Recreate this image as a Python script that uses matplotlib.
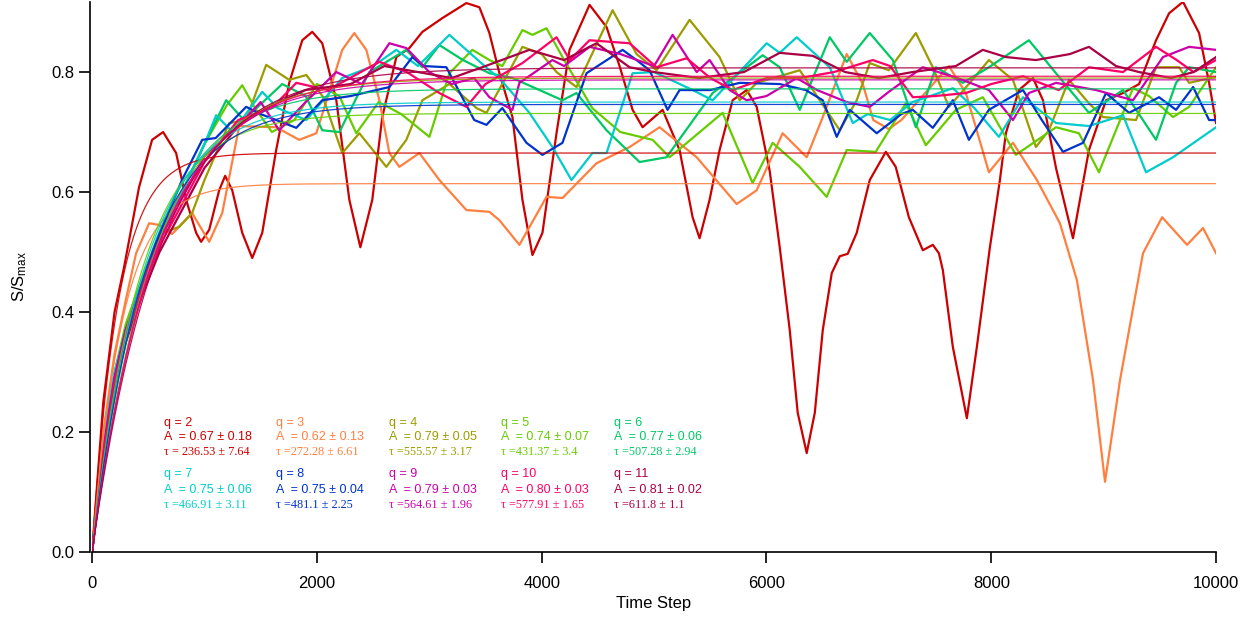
import numpy as np
import matplotlib
matplotlib.use("Agg")
import matplotlib.pyplot as plt

plt.rcParams['font.family'] = ['Liberation Sans', 'DejaVu Sans']
plt.rcParams['mathtext.default'] = 'regular'

# ---------------- data ----------------
q_values = [2, 3, 4, 5, 6, 7, 8, 9, 10, 11]
colors = ['#cc0000', '#ff7f3f', '#9c9c00', '#66cc00', '#00c864',
          '#00cccc', '#0033cc', '#cc00aa', '#ff0066', '#aa0044']

# fit parameters (printed)
A_text = ['0.67 ± 0.18', '0.62 ± 0.13', '0.79 ± 0.05', '0.74 ± 0.07', '0.77 ± 0.06',
          '0.75 ± 0.06', '0.75 ± 0.04', '0.79 ± 0.03', '0.80 ± 0.03', '0.81 ± 0.02']
tau_text = [' 236.53 ± 7.64', '272.28 ± 6.61', '555.57 ± 3.17', '431.37 ± 3.4', '507.28 ± 2.94',
            '466.91 ± 3.11', '481.1 ± 2.25', '564.61 ± 1.96', '577.91 ± 1.65', '611.8 ± 1.1']
tau_fit = [236.53, 272.28, 555.57, 431.37, 507.28, 466.91, 481.1, 564.61, 577.91, 611.8]
A_fit = [0.665, 0.614, 0.79, 0.731, 0.772, 0.75, 0.746, 0.787, 0.793, 0.807]

# noisy traces (time step, S/Smax)
t_q2 = [0, 100, 200, 285, 418, 534, 632, 748, 837, 926, 970, 1042, 1131, 1184, 1247, 1336, 1425,
        1514, 1638, 1754, 1870, 1959, 2048, 2173, 2289, 2387, 2493, 2582, 2707, 2823, 2939, 3117,
        3330, 3446, 3535, 3624, 3740, 3829, 3918, 4007, 4132, 4248, 4426, 4577, 4693, 4809, 4898,
        5076, 5227, 5343, 5405, 5494, 5583, 5699, 5824, 5913, 6029, 6118, 6207, 6278, 6358, 6430,
        6501, 6581, 6652, 6723, 6803, 6919, 7062, 7150, 7267, 7391, 7480, 7534, 7569, 7658, 7783,
        7872, 7988, 8077, 8130, 8246, 8371, 8460, 8576, 8727, 8869, 9021, 9172, 9315, 9466, 9582,
        9706, 9849, 9938, 10000]
s_q2 = [0, 0.25, 0.40, 0.475, 0.608, 0.687, 0.70, 0.665, 0.587, 0.532, 0.517, 0.537, 0.603, 0.627,
        0.603, 0.532, 0.49, 0.532, 0.67, 0.782, 0.853, 0.867, 0.848, 0.753, 0.587, 0.508, 0.587,
        0.725, 0.825, 0.84, 0.867, 0.89, 0.915, 0.908, 0.865, 0.798, 0.725, 0.587, 0.495, 0.532,
        0.698, 0.837, 0.912, 0.875, 0.81, 0.737, 0.708, 0.737, 0.67, 0.558, 0.523, 0.587, 0.67,
        0.753, 0.77, 0.742, 0.635, 0.508, 0.37, 0.232, 0.165, 0.232, 0.37, 0.465, 0.493, 0.497,
        0.532, 0.62, 0.667, 0.642, 0.558, 0.503, 0.512, 0.498, 0.47, 0.342, 0.223, 0.342, 0.508,
        0.62, 0.698, 0.77, 0.79, 0.753, 0.64, 0.523, 0.67, 0.753, 0.765, 0.78, 0.853, 0.898, 0.917,
        0.865, 0.782, 0.715]

t_q3 = [0, 100, 200, 300, 392, 508, 600, 712, 890, 1042, 1158, 1309, 1638, 1843, 1995, 2226,
        2333, 2440, 2556, 2645, 2734, 2912, 3090, 3330, 3535, 3624, 3802, 4043, 4185, 4488, 4782,
        5049, 5379, 5735, 5913, 6144, 6358, 6501, 6714, 6857, 6950, 7088, 7200, 7623, 7774, 7979,
        8193, 8406, 8611, 8762, 8905, 9012, 9146, 9350, 9520, 9742, 9884, 10000]
s_q3 = [0, 0.20, 0.33, 0.42, 0.498, 0.548, 0.545, 0.53, 0.565, 0.517, 0.565, 0.71, 0.708, 0.687,
        0.698, 0.837, 0.865, 0.837, 0.753, 0.665, 0.642, 0.665, 0.62, 0.57, 0.567, 0.553, 0.512,
        0.592, 0.59, 0.648, 0.675, 0.708, 0.658, 0.58, 0.603, 0.698, 0.658, 0.725, 0.83, 0.78,
        0.72, 0.705, 0.72, 0.81, 0.765, 0.633, 0.682, 0.62, 0.548, 0.453, 0.287, 0.117, 0.287,
        0.498, 0.558, 0.512, 0.54, 0.498]

t_q4 = [0, 100, 200, 300, 450, 600, 775, 890, 1000, 1220, 1370, 1549, 1754, 1906, 2050, 2226,
        2378, 2618, 2796, 2939, 3180, 3420, 3509, 3829, 4000, 4132, 4310, 4631, 4844, 5022, 5316,
        5583, 5762, 5913, 6296, 6652, 6803, 6919, 7088, 7329, 7480, 7623, 7800, 7979, 8193, 8397,
        8513, 8691, 8869, 8994, 9288, 9466, 9671, 9760, 10000]
s_q4 = [0, 0.17, 0.29, 0.37, 0.45, 0.53, 0.542, 0.565, 0.62, 0.715, 0.72, 0.812, 0.787, 0.795,
        0.76, 0.665, 0.698, 0.642, 0.687, 0.753, 0.78, 0.74, 0.732, 0.842, 0.83, 0.80, 0.775,
        0.903, 0.83, 0.803, 0.887, 0.825, 0.753, 0.782, 0.803, 0.703, 0.753, 0.815, 0.803, 0.865,
        0.808, 0.742, 0.78, 0.82, 0.787, 0.675, 0.703, 0.787, 0.748, 0.725, 0.72, 0.808, 0.808,
        0.782, 0.792]

t_q5 = [0, 100, 200, 300, 450, 600, 800, 1000, 1200, 1336, 1450, 1600, 1800, 2000, 2200, 2351,
        2550, 2750, 3001, 3179, 3384, 3535, 3650, 3829, 3918, 4043, 4200, 4450, 4700, 4987, 5138,
        5343, 5610, 5877, 6055, 6296, 6536, 6714, 6972, 7240, 7418, 7685, 7925, 8219, 8576, 8780,
        8958, 9261, 9404, 9617, 9760, 10000]
s_q5 = [0, 0.18, 0.30, 0.38, 0.46, 0.53, 0.60, 0.68, 0.745, 0.778, 0.74, 0.70, 0.72, 0.78, 0.76,
        0.698, 0.75, 0.73, 0.692, 0.798, 0.837, 0.82, 0.81, 0.87, 0.862, 0.873, 0.82, 0.74, 0.70,
        0.687, 0.658, 0.69, 0.732, 0.615, 0.682, 0.642, 0.592, 0.67, 0.667, 0.748, 0.678, 0.737,
        0.758, 0.662, 0.708, 0.698, 0.633, 0.773, 0.76, 0.725, 0.742, 0.808]

t_q6 = [0, 100, 200, 300, 450, 600, 800, 1000, 1193, 1350, 1692, 1900, 2048, 2200, 2467, 2645,
        2796, 2939, 3090, 3300, 3535, 3740, 4185, 4310, 4577, 4871, 5111, 5521, 5966, 6118, 6296,
        6563, 6714, 6919, 7124, 7329, 7507, 7747, 7979, 8335, 8576, 8869, 9172, 9466, 9644, 9760,
        10000]
s_q6 = [0, 0.17, 0.29, 0.37, 0.45, 0.52, 0.60, 0.68, 0.753, 0.72, 0.78, 0.76, 0.703, 0.70, 0.80,
        0.82, 0.837, 0.808, 0.845, 0.82, 0.798, 0.79, 0.753, 0.765, 0.703, 0.65, 0.658, 0.765,
        0.828, 0.808, 0.737, 0.858, 0.817, 0.865, 0.82, 0.708, 0.808, 0.782, 0.808, 0.853, 0.798,
        0.732, 0.77, 0.687, 0.782, 0.808, 0.80]

t_q7 = [0, 100, 200, 300, 450, 600, 800, 1000, 1104, 1250, 1514, 1650, 1906, 2226, 2500, 2707,
        2900, 3179, 3535, 3624, 3891, 4096, 4265, 4452, 4577, 4809, 5000, 5343, 5521, 6002, 6118,
        6269, 6563, 6768, 6900, 7100, 7300, 7658, 7850, 8068, 8282, 8576, 8869, 9172, 9377, 9617,
        10000]
s_q7 = [0, 0.18, 0.30, 0.37, 0.45, 0.53, 0.60, 0.68, 0.728, 0.70, 0.767, 0.74, 0.72, 0.79, 0.81,
        0.837, 0.81, 0.862, 0.803, 0.79, 0.732, 0.675, 0.62, 0.665, 0.665, 0.798, 0.80, 0.77,
        0.753, 0.848, 0.832, 0.858, 0.808, 0.715, 0.73, 0.72, 0.75, 0.773, 0.74, 0.692, 0.758,
        0.715, 0.71, 0.728, 0.633, 0.658, 0.708]

t_q8 = [0, 100, 200, 300, 450, 600, 800, 980, 1100, 1371, 1500, 1817, 2048, 2300, 2645, 2850,
        2950, 3152, 3400, 3509, 3650, 3865, 4007, 4185, 4399, 4720, 4844, 4960, 5120, 5227, 5500,
        5762, 6118, 6350, 6501, 6625, 6741, 6981, 7200, 7302, 7480, 7658, 7801, 7979, 8282, 8450,
        8638, 8816, 9021, 9226, 9493, 9644, 9796, 9938, 10000]
s_q8 = [0, 0.17, 0.29, 0.37, 0.45, 0.53, 0.62, 0.687, 0.69, 0.742, 0.73, 0.707, 0.753, 0.76,
        0.775, 0.825, 0.81, 0.808, 0.72, 0.712, 0.74, 0.682, 0.662, 0.682, 0.798, 0.837, 0.82,
        0.803, 0.737, 0.77, 0.77, 0.782, 0.78, 0.77, 0.753, 0.692, 0.737, 0.698, 0.73, 0.737,
        0.707, 0.753, 0.687, 0.737, 0.77, 0.72, 0.667, 0.682, 0.765, 0.732, 0.758, 0.737, 0.775,
        0.72, 0.72]

t_q9 = [0, 100, 200, 300, 450, 600, 800, 1000, 1300, 1500, 1665, 1900, 2173, 2400, 2645, 2796,
        3000, 3200, 3400, 3535, 3740, 3802, 4096, 4200, 4426, 4700, 5000, 5165, 5379, 5494, 5672,
        5824, 6000, 6269, 6450, 6714, 6919, 7088, 7391, 7700, 7979, 8193, 8335, 8576, 8932, 9261,
        9528, 9760, 10000]
s_q9 = [0, 0.17, 0.29, 0.37, 0.45, 0.52, 0.59, 0.66, 0.71, 0.75, 0.703, 0.75, 0.80, 0.78, 0.848,
        0.84, 0.80, 0.78, 0.79, 0.758, 0.737, 0.782, 0.82, 0.81, 0.842, 0.83, 0.81, 0.862, 0.80,
        0.82, 0.77, 0.753, 0.76, 0.79, 0.77, 0.75, 0.742, 0.767, 0.808, 0.79, 0.77, 0.72, 0.765,
        0.782, 0.77, 0.753, 0.825, 0.842, 0.837]

t_q10 = [0, 100, 200, 300, 450, 600, 800, 1000, 1300, 1600, 1817, 2100, 2556, 2800, 3090, 3330,
         3500, 3829, 4132, 4250, 4426, 4782, 5022, 5290, 5500, 5699, 6000, 6300, 6600, 6946, 7100,
         7302, 7500, 7774, 8000, 8282, 8600, 8869, 9172, 9466, 9650, 9800, 10000]
s_q10 = [0, 0.16, 0.28, 0.36, 0.44, 0.51, 0.58, 0.65, 0.72, 0.74, 0.782, 0.77, 0.817, 0.80, 0.765,
         0.742, 0.78, 0.815, 0.858, 0.82, 0.853, 0.848, 0.808, 0.823, 0.79, 0.77, 0.79, 0.79, 0.80,
         0.82, 0.81, 0.758, 0.76, 0.765, 0.78, 0.793, 0.77, 0.808, 0.80, 0.842, 0.82, 0.80, 0.82]

t_q11 = [0, 100, 200, 300, 450, 600, 800, 1000, 1300, 1600, 1900, 2300, 2600, 2900, 3200, 3500,
         3891, 4200, 4488, 4782, 5000, 5400, 5800, 6118, 6412, 6700, 7000, 7300, 7685, 7925, 8130,
         8397, 8700, 8869, 9110, 9315, 9600, 9800, 10000]
s_q11 = [0, 0.15, 0.27, 0.35, 0.43, 0.50, 0.57, 0.64, 0.71, 0.745, 0.77, 0.78, 0.81, 0.80, 0.79,
         0.81, 0.837, 0.82, 0.848, 0.808, 0.80, 0.79, 0.80, 0.832, 0.827, 0.80, 0.79, 0.80, 0.81,
         0.837, 0.825, 0.82, 0.83, 0.842, 0.81, 0.80, 0.79, 0.80, 0.825]

traces_t = [t_q2, t_q3, t_q4, t_q5, t_q6, t_q7, t_q8, t_q9, t_q10, t_q11]
traces_s = [s_q2, s_q3, s_q4, s_q5, s_q6, s_q7, s_q8, s_q9, s_q10, s_q11]

x_ticks = [0, 2000, 4000, 6000, 8000, 10000]
y_ticks = [0.0, 0.2, 0.4, 0.6, 0.8]
# label block anchors (time step, S/Smax)
label_x = [640, 1640, 2640, 3640, 4640]
label_rows_y = [(0.215, 0.192, 0.167), (0.130, 0.103, 0.078)]

# ---------------- plot ----------------
fig = plt.figure(figsize=(12.56, 6.18), dpi=100)
ax = fig.add_axes([0.0733, 0.1068, 0.8949, 0.8899])

for t, s, c in zip(traces_t, traces_s, colors):
    ax.plot(t, s, color=c, lw=1.6, solid_joinstyle='round')

tt = np.linspace(0, 10000, 600)
for A, tau, c in zip(A_fit, tau_fit, colors):
    ax.plot(tt, A * (1 - np.exp(-tt / tau)), color=c, lw=0.9, alpha=0.9)

for i, q in enumerate(q_values):
    row = i // 5
    col = i % 5
    yq, ya, yt = label_rows_y[row]
    x = label_x[col]
    c = colors[i]
    ax.text(x, yq, f'q = {q}', color=c, fontsize=9, va='center', ha='left')
    ax.text(x, ya, f'A  = {A_text[i]}', color=c, fontsize=9, va='center', ha='left')
    ax.text(x, yt, f'τ ={tau_text[i]}', color=c, fontsize=8.8, va='center', ha='left',
            family=['Liberation Serif', 'DejaVu Serif'])

ax.set_xlim(0, 10000)
ax.set_ylim(0, 0.9167)
ax.set_xticks(x_ticks)
ax.set_xticklabels([str(v) for v in x_ticks])
ax.set_yticks(y_ticks)
ax.set_yticklabels([f'{v:.1f}' for v in y_ticks])
ax.spines['top'].set_visible(False)
ax.spines['right'].set_visible(False)
ax.spines['left'].set_position(('outward', 1.5))
for sp in ('left', 'bottom'):
    ax.spines[sp].set_linewidth(1.2)
ax.tick_params(direction='out', length=8, width=1.2, labelsize=12)
ax.tick_params(axis='y', pad=3)
ax.tick_params(axis='x', pad=9)
ax.set_xlabel('Time Step', fontsize=12, labelpad=4)
ax.set_ylabel('S/S$_{max}$', fontsize=12, labelpad=16)

fig.savefig('out.png', dpi=100)
